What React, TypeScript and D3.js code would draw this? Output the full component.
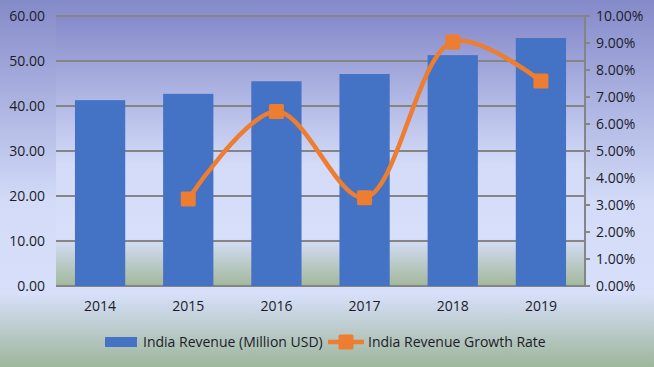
import React from "react";
import * as d3 from "d3";

const years = ["2014", "2015", "2016", "2017", "2018", "2019"];
const revenue = [41.3, 42.7, 45.5, 47.1, 51.3, 55.1];
const growthYears = ["2015", "2016", "2017", "2018", "2019"];
const growth = [3.22, 6.46, 3.27, 9.04, 7.59];
const leftTicks = [0, 10, 20, 30, 40, 50, 60];
const rightTicks = [0, 1, 2, 3, 4, 5, 6, 7, 8, 9, 10];
const seriesNames = ["India Revenue (Million USD)", "India Revenue Growth Rate"];

const W = 654;
const H = 367;
const M = { left: 56, right: 585, top: 16, bottom: 286 };
const FONT = "'Open Sans', sans-serif";
const BLUE = "#4472C4";
const ORANGE = "#ED7D31";
const GRID = "#858585";
const TEXT = "#1c1c28";
const FS = 14;

export default function App() {
  const x = d3.scaleBand<string>().domain(years).range([M.left, M.right]).paddingInner(0.43).paddingOuter(0.215);
  const yL = d3.scaleLinear().domain([0, 60]).range([M.bottom, M.top]);
  const yR = d3.scaleLinear().domain([0, 10]).range([M.bottom, M.top]);
  const cx = (c: string) => (x(c) as number) + x.bandwidth() / 2;
  const pts: [number, number][] = growthYears.map((c, i) => [cx(c), yR(growth[i])]);
  const line = d3.line().curve(d3.curveCatmullRom.alpha(0.5))(pts) as string;

  return (
    <svg width={W} height={H} style={{ position: "absolute", left: 0, top: 0 }} fontFamily={FONT}>
      <defs>
        <linearGradient id="bg" x1="0" y1="0" x2="0" y2="1">
          <stop offset="0" stopColor="#858ac9" />
          <stop offset="0.55" stopColor="#d3dbf8" />
          <stop offset="0.8" stopColor="#d7dffa" />
          <stop offset="1" stopColor="#9eb69b" />
        </linearGradient>
        <linearGradient id="pg" x1="0" y1="0" x2="0" y2="1">
          <stop offset="0" stopColor="#868aca" />
          <stop offset="0.55" stopColor="#d3dbf8" />
          <stop offset="0.82" stopColor="#d7dffa" />
          <stop offset="1" stopColor="#a2b89c" />
        </linearGradient>
      </defs>
      <rect x={0} y={0} width={W} height={H} fill="url(#bg)" />
      <rect x={M.left} y={M.top} width={M.right - M.left} height={M.bottom - M.top} fill="url(#pg)" />
      {leftTicks.map((t) => (
        <line key={"g" + t} x1={M.left} x2={M.right} y1={yL(t)} y2={yL(t)} stroke={GRID} strokeWidth={2} />
      ))}
      {years.map((c, i) => (
        <rect key={"b" + c} x={x(c)} y={yL(revenue[i])} width={x.bandwidth()} height={yL(0) - yL(revenue[i])} fill={BLUE} />
      ))}
      <line x1={M.right} x2={M.right} y1={M.top} y2={M.bottom} stroke={GRID} strokeWidth={2} />
      {rightTicks.map((t) => (
        <line key={"rt" + t} x1={M.right} x2={M.right + 5} y1={yR(t)} y2={yR(t)} stroke={GRID} strokeWidth={2} />
      ))}
      <path d={line} fill="none" stroke={ORANGE} strokeWidth={4.5} strokeLinejoin="round" />
      {pts.map((p, i) => (
        <rect key={"m" + i} x={p[0] - 7.5} y={p[1] - 7.5} width={15} height={15} rx={1.5} fill={ORANGE} />
      ))}
      {leftTicks.map((t) => (
        <text key={"lt" + t} x={45} y={yL(t)} dy="0.35em" textAnchor="end" fontSize={FS} fill={TEXT}>
          {t.toFixed(2)}
        </text>
      ))}
      {rightTicks.map((t) => (
        <text key={"rl" + t} x={596} y={yR(t)} dy="0.35em" textAnchor="start" fontSize={FS} fill={TEXT}>
          {t.toFixed(2) + "%"}
        </text>
      ))}
      {years.map((c) => (
        <text key={"xl" + c} x={cx(c)} y={306} dy="0.35em" textAnchor="middle" fontSize={FS} fill={TEXT}>
          {c}
        </text>
      ))}
      <rect x={105} y={337} width={32} height={10} fill={BLUE} />
      <text x={143} y={342} dy="0.35em" fontSize={FS} fill={TEXT}>
        {seriesNames[0]}
      </text>
      <line x1={328} x2={364} y1={342} y2={342} stroke={ORANGE} strokeWidth={4.5} />
      <rect x={338.5} y={334.5} width={15} height={15} rx={1.5} fill={ORANGE} />
      <text x={368} y={342} dy="0.35em" fontSize={FS} fill={TEXT}>
        {seriesNames[1]}
      </text>
    </svg>
  );
}
